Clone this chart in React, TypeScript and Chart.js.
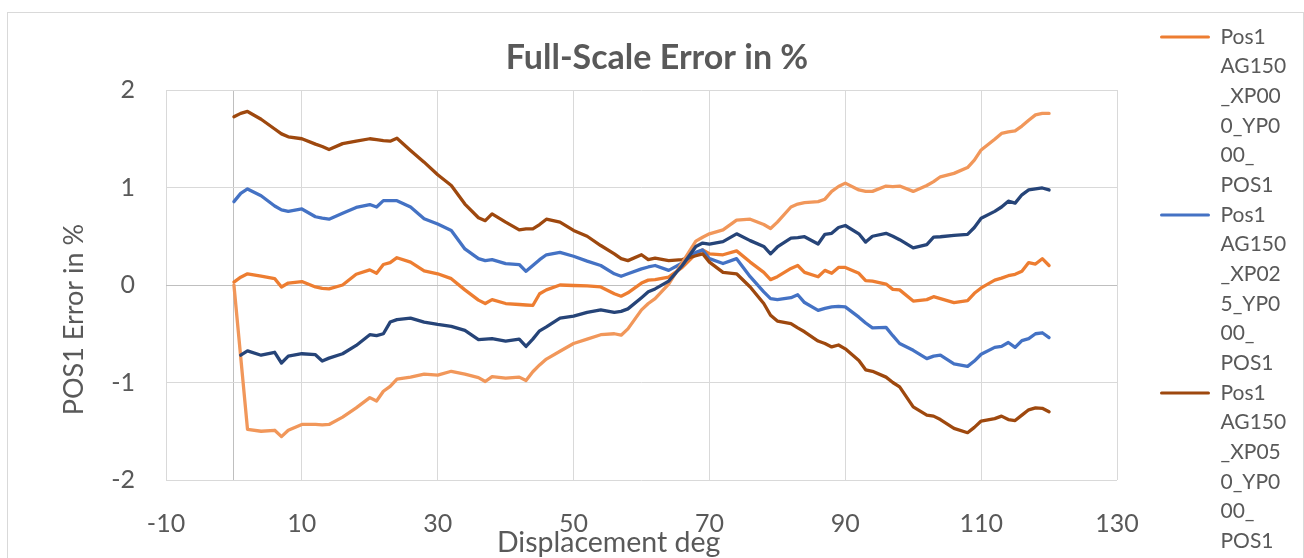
import React, { useEffect, useRef } from 'react';
import { Chart, registerables } from 'chart.js';

Chart.register(...registerables);

// ---------------- data ----------------
const displacementDeg = [
  0, 1, 2, 4, 6, 7, 8, 10, 12, 13,
  14, 16, 18, 20, 21, 22, 23, 24, 26, 28,
  30, 32, 34, 36, 37, 38, 40, 42, 43, 44,
  45, 46, 48, 50, 52, 54, 56, 57, 58, 60,
  61, 62, 64, 66, 68, 69, 70, 72, 74, 76,
  78, 79, 80, 82, 83, 84, 86, 87, 88, 89,
  90, 92, 93, 94, 96, 97, 98, 100, 102, 103,
  104, 106, 108, 109, 110, 112, 113, 114, 115, 116,
  117, 118, 119, 120,
];

const errXP000 = [
  0.03, 0.08, 0.115, 0.09, 0.065, -0.02, 0.02, 0.035, -0.02, -0.035,
  -0.04, 0.0, 0.11, 0.155, 0.12, 0.21, 0.23, 0.28, 0.235, 0.145,
  0.115, 0.065, -0.05, -0.155, -0.19, -0.15, -0.19, -0.2, -0.205, -0.21,
  -0.09, -0.05, 0.0, -0.005, -0.01, -0.02, -0.09, -0.115, -0.08, 0.02,
  0.05, 0.055, 0.08, 0.18, 0.32, 0.36, 0.32, 0.31, 0.35, 0.235,
  0.13, 0.055, 0.085, 0.17, 0.2, 0.13, 0.085, 0.15, 0.12, 0.18,
  0.18, 0.12, 0.045, 0.04, 0.01, -0.045, -0.05, -0.165, -0.15, -0.12,
  -0.14, -0.18, -0.16, -0.085, -0.03, 0.05, 0.07, 0.095, 0.11, 0.14,
  0.23, 0.215, 0.27, 0.2,
];

const errXP025 = [
  0.855, 0.94, 0.985, 0.915, 0.81, 0.77, 0.755, 0.78, 0.7, 0.685,
  0.675, 0.735, 0.795, 0.825, 0.8, 0.865, 0.865, 0.865, 0.8, 0.68,
  0.625, 0.56, 0.37, 0.27, 0.25, 0.26, 0.22, 0.21, 0.14, 0.2,
  0.26, 0.31, 0.335, 0.295, 0.245, 0.2, 0.115, 0.09, 0.115, 0.165,
  0.185, 0.2, 0.15, 0.225, 0.335, 0.36, 0.27, 0.22, 0.27, 0.085,
  -0.07, -0.14, -0.15, -0.13, -0.1, -0.18, -0.26, -0.24, -0.225, -0.22,
  -0.225, -0.33, -0.39, -0.44, -0.435, -0.52, -0.6, -0.67, -0.755, -0.73,
  -0.72, -0.81, -0.835, -0.78, -0.71, -0.64, -0.63, -0.59, -0.64, -0.57,
  -0.55, -0.5, -0.49, -0.54,
];

const errXP050 = [
  1.725, 1.76, 1.78, 1.7, 1.6, 1.55, 1.52, 1.5, 1.445, 1.42,
  1.39, 1.45, 1.475, 1.5, 1.49, 1.48, 1.475, 1.505, 1.38, 1.26,
  1.13, 1.02, 0.83, 0.69, 0.66, 0.73, 0.645, 0.565, 0.575, 0.575,
  0.62, 0.675, 0.645, 0.56, 0.5, 0.405, 0.32, 0.27, 0.25, 0.31,
  0.26, 0.275, 0.25, 0.26, 0.3, 0.32, 0.235, 0.13, 0.115, -0.02,
  -0.19, -0.31, -0.37, -0.395, -0.44, -0.48, -0.575, -0.6, -0.635, -0.615,
  -0.655, -0.775, -0.87, -0.885, -0.945, -1.0, -1.045, -1.25, -1.335, -1.345,
  -1.38, -1.47, -1.515, -1.46, -1.395, -1.37, -1.345, -1.38, -1.39, -1.335,
  -1.28, -1.26, -1.265, -1.3,
];

const errSeries4 = [
  0.0, -0.74, -1.48, -1.5, -1.49, -1.555, -1.49, -1.43, -1.43, -1.435,
  -1.43, -1.355, -1.26, -1.155, -1.19, -1.09, -1.04, -0.965, -0.945, -0.915,
  -0.925, -0.885, -0.915, -0.95, -0.99, -0.94, -0.955, -0.945, -0.98, -0.89,
  -0.82, -0.76, -0.68, -0.6, -0.555, -0.51, -0.5, -0.515, -0.45, -0.255,
  -0.19, -0.14, 0.01, 0.23, 0.45, 0.49, 0.525, 0.565, 0.665, 0.675,
  0.62, 0.58, 0.645, 0.8, 0.83, 0.845, 0.855, 0.88, 0.96, 1.01,
  1.045, 0.975, 0.96, 0.96, 1.015, 1.01, 1.015, 0.96, 1.02, 1.06,
  1.11, 1.145, 1.205, 1.28, 1.385, 1.495, 1.555, 1.57, 1.58, 1.63,
  1.69, 1.745, 1.76, 1.76,
];

const errSeries5 = [
  null, -0.72, -0.675, -0.72, -0.69, -0.8, -0.73, -0.705, -0.715, -0.78,
  -0.75, -0.705, -0.62, -0.51, -0.52, -0.5, -0.38, -0.355, -0.34, -0.38,
  -0.405, -0.425, -0.465, -0.56, -0.555, -0.55, -0.575, -0.555, -0.63, -0.555,
  -0.47, -0.43, -0.34, -0.32, -0.28, -0.255, -0.28, -0.27, -0.245, -0.13,
  -0.07, -0.04, 0.04, 0.2, 0.395, 0.43, 0.42, 0.445, 0.525, 0.455,
  0.395, 0.32, 0.39, 0.48, 0.485, 0.495, 0.42, 0.52, 0.53, 0.59,
  0.61, 0.525, 0.44, 0.5, 0.53, 0.5, 0.465, 0.38, 0.415, 0.49,
  0.495, 0.51, 0.52, 0.59, 0.685, 0.755, 0.8, 0.86, 0.84, 0.925,
  0.975, 0.985, 0.995, 0.975,
];

const seriesNames = [
  'Pos1 AG150_XP000_YP000_POS1',
  'Pos1 AG150_XP025_YP000_POS1',
  'Pos1 AG150_XP050_YP000_POS1',
  'Series 4',
  'Series 5',
];

const legendLines = [
  ['Pos1', 'AG150', '_XP00', '0_YP0', '00_', 'POS1'],
  ['Pos1', 'AG150', '_XP02', '5_YP0', '00_', 'POS1'],
  ['Pos1', 'AG150', '_XP05', '0_YP0', '00_', 'POS1'],
];

const xTicksMin = -10;
const xTicksMax = 130;
const xTickStep = 20;
const yTicksMin = -2;
const yTicksMax = 2;
const yTickStep = 1;

const chartTitle = 'Full-Scale Error in %';
const xAxisTitle = 'Displacement deg';
const yAxisTitle = 'POS1 Error in %';

// ---------------- styles ----------------
const FONT = 'Lato';
const TEXT = '#595959';
const GRID = '#d9d9d9';
const AXIS = '#bfbfbf';
const COLORS = ['#ED7D31', '#4472C4', '#9E480E', '#F1975A', '#264478'];
const ORDERS = [5, 4, 3, 2, 1];

export default function App() {
  const ref = useRef<HTMLCanvasElement | null>(null);

  useEffect(() => {
    const canvas = ref.current;
    if (!canvas) return;

    const W = 1304;
    const H = 600;
    const area = { left: 166, right: 1117, top: 90, bottom: 480 };
    const legendX = 1160;
    const gapRight = 43;

    const tickSize = 25;
    const xTitleSize = 28.5;
    const yTitleSize = 27;
    const legendSize = 21;
    const legendLH = 29.67;
    const titleSize = 34;
    const boxWidth = 50;

    const m = document.createElement('canvas').getContext('2d')!;
    const measure = (font: string, s: string) => {
      m.font = font;
      return m.measureText(s).width;
    };
    const padEnd = (text: string, font: string, px: number) => {
      const sp = measure(font, ' ');
      const n = Math.max(0, Math.round(px / sp));
      return text + ' '.repeat(n);
    };

    const legendFontStr = `normal ${legendSize}px ${FONT}`;
    let maxW = 0;
    legendLines.forEach((lines) => {
      const longest = lines.reduce((a, b) => (a.length > b.length ? a : b));
      maxW = Math.max(maxW, measure(legendFontStr, longest));
    });
    const legendW = boxWidth + legendSize / 2 + maxW + 10;
    const pad = { R: W - legendX - legendW, L: 0 };
    pad.L = pad.R + 10;

    const xTitleText = padEnd(xAxisTitle, `normal ${xTitleSize}px ${FONT}`, 69);
    const yTitleText = padEnd(yAxisTitle, `normal ${yTitleSize}px ${FONT}`, 66);

    const titleLH = titleSize * 1.2;
    const yTitleLH = yTitleSize * 1.2;
    const xTitleLH = xTitleSize * 1.2;
    const tickLH = tickSize * 1.2;

    const datasets = [errXP000, errXP025, errXP050, errSeries4, errSeries5].map((vals, i) => ({
      label: seriesNames[i],
      data: displacementDeg.map((x, j) => ({ x, y: vals[j] })),
      borderColor: COLORS[i],
      backgroundColor: COLORS[i],
      borderWidth: 3.3,
      pointRadius: 0,
      pointHoverRadius: 0,
      tension: 0,
      fill: false,
      spanGaps: false,
      borderJoinStyle: 'round' as const,
      borderCapStyle: 'round' as const,
      order: ORDERS[i],
      xAxisID: 'x',
      yAxisID: 'y',
    }));

    const gridColor = (ctx: any) => (ctx.tick && ctx.tick.value === 0 ? AXIS : GRID);

    const chart = new Chart(canvas, {
      type: 'line',
      data: { datasets },
      options: {
        responsive: false,
        animation: false,
        devicePixelRatio: 1,
        events: [],
        layout: { padding: { left: pad.L, right: pad.R, top: 0, bottom: 0 } },
        plugins: {
          title: {
            display: true,
            text: chartTitle,
            color: TEXT,
            font: { family: FONT, size: titleSize, weight: 'bold', lineHeight: 1.2 },
            padding: { top: 58 - titleLH / 2, bottom: area.top - 58 - titleLH / 2 },
          },
          legend: {
            display: true,
            position: 'right',
            align: 'start',
            title: {
              display: true,
              text: ' ',
              font: { family: FONT, size: 10, lineHeight: 1 },
              padding: { top: 37 - legendSize / 2 - 10, bottom: 0 },
            },
            labels: {
              boxWidth,
              boxHeight: 3,
              padding: 0,
              color: TEXT,
              useBorderRadius: true,
              borderRadius: 1.5,
              font: { family: FONT, size: legendSize, lineHeight: `${legendLH}px` },
              generateLabels: () =>
                legendLines.map((lines, i) => ({
                  text: lines as any,
                  fillStyle: COLORS[i],
                  strokeStyle: COLORS[i],
                  lineWidth: 0,
                  hidden: false,
                  datasetIndex: i,
                  fontColor: TEXT,
                  borderRadius: 1.5,
                })) as any,
            },
          },
          tooltip: { enabled: false },
        },
        scales: {
          x: {
            type: 'linear',
            position: 'bottom',
            min: xTicksMin,
            max: xTicksMax,
            ticks: {
              stepSize: xTickStep,
              font: { family: FONT, size: tickSize, lineHeight: 1.2 },
              color: TEXT,
              padding: 523.5 - area.bottom - tickLH / 2,
              autoSkip: false,
              maxRotation: 0,
              callback: (v: any) => (v === 0 ? '' : String(v)),
            },
            grid: { color: gridColor, lineWidth: 1, drawTicks: false },
            border: { display: false },
            title: {
              display: true,
              text: xTitleText,
              color: TEXT,
              font: { family: FONT, size: xTitleSize, lineHeight: 1.2 },
              padding: { top: 0, bottom: H - 543 - xTitleLH / 2 },
            },
            afterBuildTicks: (s: any) => {
              if (!s.ticks.some((t: any) => t.value === 0)) s.ticks.push({ value: 0 });
              s.ticks.sort((a: any, b: any) => a.value - b.value);
            },
            afterFit: (s: any) => {
              s.height = H - area.bottom;
            },
          },
          y: {
            type: 'linear',
            position: 'left',
            min: yTicksMin,
            max: yTicksMax,
            ticks: {
              stepSize: yTickStep,
              font: { family: FONT, size: tickSize, lineHeight: 1.2 },
              color: TEXT,
              padding: area.left - 135,
            },
            grid: { color: gridColor, lineWidth: 1, drawTicks: false },
            border: { display: false },
            title: {
              display: true,
              text: yTitleText,
              color: TEXT,
              font: { family: FONT, size: yTitleSize, lineHeight: 1.2 },
              padding: { top: 74 - pad.L - yTitleLH / 2, bottom: 0 },
            },
            afterFit: (s: any) => {
              s.width = area.left - pad.L;
            },
          },
          yR: {
            type: 'linear',
            position: 'right',
            display: true,
            grid: { display: false },
            border: { display: false },
            ticks: { display: false },
            afterFit: (s: any) => {
              s.width = gapRight;
            },
          },
        },
      } as any,
    });

    // fine-tune so the legend starts exactly where intended
    const lg: any = (chart as any).legend;
    if (lg) {
      const dx = lg.left - legendX;
      if (Math.abs(dx) > 0.5) {
        pad.R += dx;
        pad.L = pad.R + 10;
        const o: any = chart.options;
        o.layout.padding = { left: pad.L, right: pad.R, top: 0, bottom: 0 };
        o.scales.y.title.padding = { top: 74 - pad.L - yTitleLH / 2, bottom: 0 };
        chart.update();
      }
    }

    return () => {
      chart.destroy();
    };
  }, []);

  return (
    <div
      style={{
        position: 'fixed',
        left: 0,
        top: 0,
        width: 1304,
        height: 558,
        overflow: 'hidden',
        background: '#ffffff',
      }}
    >
      <div
        style={{
          position: 'absolute',
          left: 7,
          top: 12,
          width: 1297,
          height: 600,
          border: '1px solid #d9d9d9',
          boxSizing: 'border-box',
        }}
      />
      <canvas
        ref={ref}
        width={1304}
        height={600}
        style={{ position: 'absolute', left: 0, top: 0, width: 1304, height: 600 }}
      />
    </div>
  );
}
